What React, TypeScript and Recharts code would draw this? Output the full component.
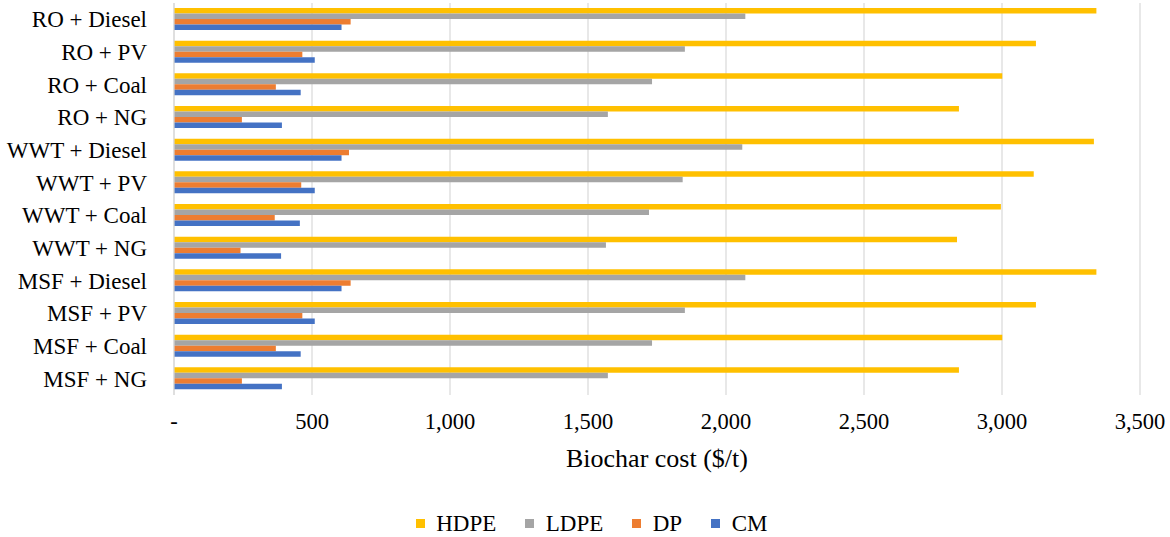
import React from 'react';
import { BarChart, Bar, XAxis, YAxis, CartesianGrid, Legend, Label } from 'recharts';

const categories = ['RO + Diesel', 'RO + PV', 'RO + Coal', 'RO + NG', 'WWT + Diesel', 'WWT + PV', 'WWT + Coal', 'WWT + NG', 'MSF + Diesel', 'MSF + PV', 'MSF + Coal', 'MSF + NG'];
const hdpe = [3342, 3123, 3001, 2844, 3333, 3115, 2996, 2837, 3342, 3123, 3001, 2844];
const ldpe = [2070, 1851, 1732, 1572, 2059, 1843, 1721, 1565, 2070, 1851, 1732, 1572];
const dp = [640, 465, 369, 246, 634, 461, 365, 241, 640, 465, 369, 246];
const cm = [607, 510, 459, 391, 607, 510, 456, 388, 607, 510, 459, 391];
const xTicks = [0, 500, 1000, 1500, 2000, 2500, 3000, 3500];

const seriesNames = ['HDPE', 'LDPE', 'DP', 'CM'];
const seriesColors = ['#FFC000', '#A5A5A5', '#ED7D31', '#4472C4'];

const data = categories.map((c, i) => ({ name: c, HDPE: hdpe[i], LDPE: ldpe[i], DP: dp[i], CM: cm[i] }));

const FONT = '"Liberation Serif", "Times New Roman", serif';

const fmt = (v: number) => (v === 0 ? '-' : v.toLocaleString('en-US'));

const LegendContent = () => (
  <div
    style={{
      height: 30,
      boxSizing: 'border-box',
      paddingTop: 3,
      paddingLeft: 415.7,
      display: 'flex',
      alignItems: 'center',
      fontFamily: FONT,
      fontSize: 23,
      color: '#000',
      lineHeight: '30px',
    }}
  >
    {seriesNames.map((n, i) => (
      <div key={n} style={{ display: 'flex', alignItems: 'center', marginRight: i < seriesNames.length - 1 ? 29 : 0 }}>
        <span style={{ display: 'inline-block', width: 9, height: 9, background: seriesColors[i], marginRight: 11.5 }} />
        <span>{n}</span>
      </div>
    ))}
  </div>
);

export default function App() {
  return (
    <div style={{ position: 'absolute', left: 0, top: 0, width: 1170, height: 537, background: '#fff' }}>
      <BarChart
        width={1170}
        height={537}
        data={data}
        layout="vertical"
        margin={{ top: 3, right: 30, left: 0, bottom: 0 }}
        barSize={5.5}
        barGap={0}
      >
        <CartesianGrid horizontal={false} vertical={true} stroke="#d9d9d9" strokeWidth={1.2} />
        <XAxis
          type="number"
          domain={[0, 3500]}
          ticks={xTicks}
          tickFormatter={fmt}
          axisLine={false}
          tickLine={false}
          tickSize={0}
          tickMargin={18}
          height={112}
          tick={{ fontFamily: FONT, fontSize: 22.5, fill: '#000' }}
          interval={0}
        >
          <Label
            value="Biochar cost ($/t)"
            position="insideBottom"
            offset={40}
            style={{ fontFamily: FONT, fontSize: 26, fill: '#000' }}
          />
        </XAxis>
        <YAxis
          type="category"
          dataKey="name"
          width={174}
          axisLine={{ stroke: '#d9d9d9', strokeWidth: 1.2 }}
          tickLine={false}
          tickSize={0}
          tickMargin={27}
          interval={0}
          tick={{ fontFamily: FONT, fontSize: 23, fill: '#000' }}
        />
        <Legend verticalAlign="bottom" content={<LegendContent />} wrapperStyle={{ left: 0, width: 1170, bottom: 0 }} />
        {seriesNames.map((n, i) => (
          <Bar key={n} dataKey={n} name={n} fill={seriesColors[i]} isAnimationActive={false} />
        ))}
      </BarChart>
    </div>
  );
}
